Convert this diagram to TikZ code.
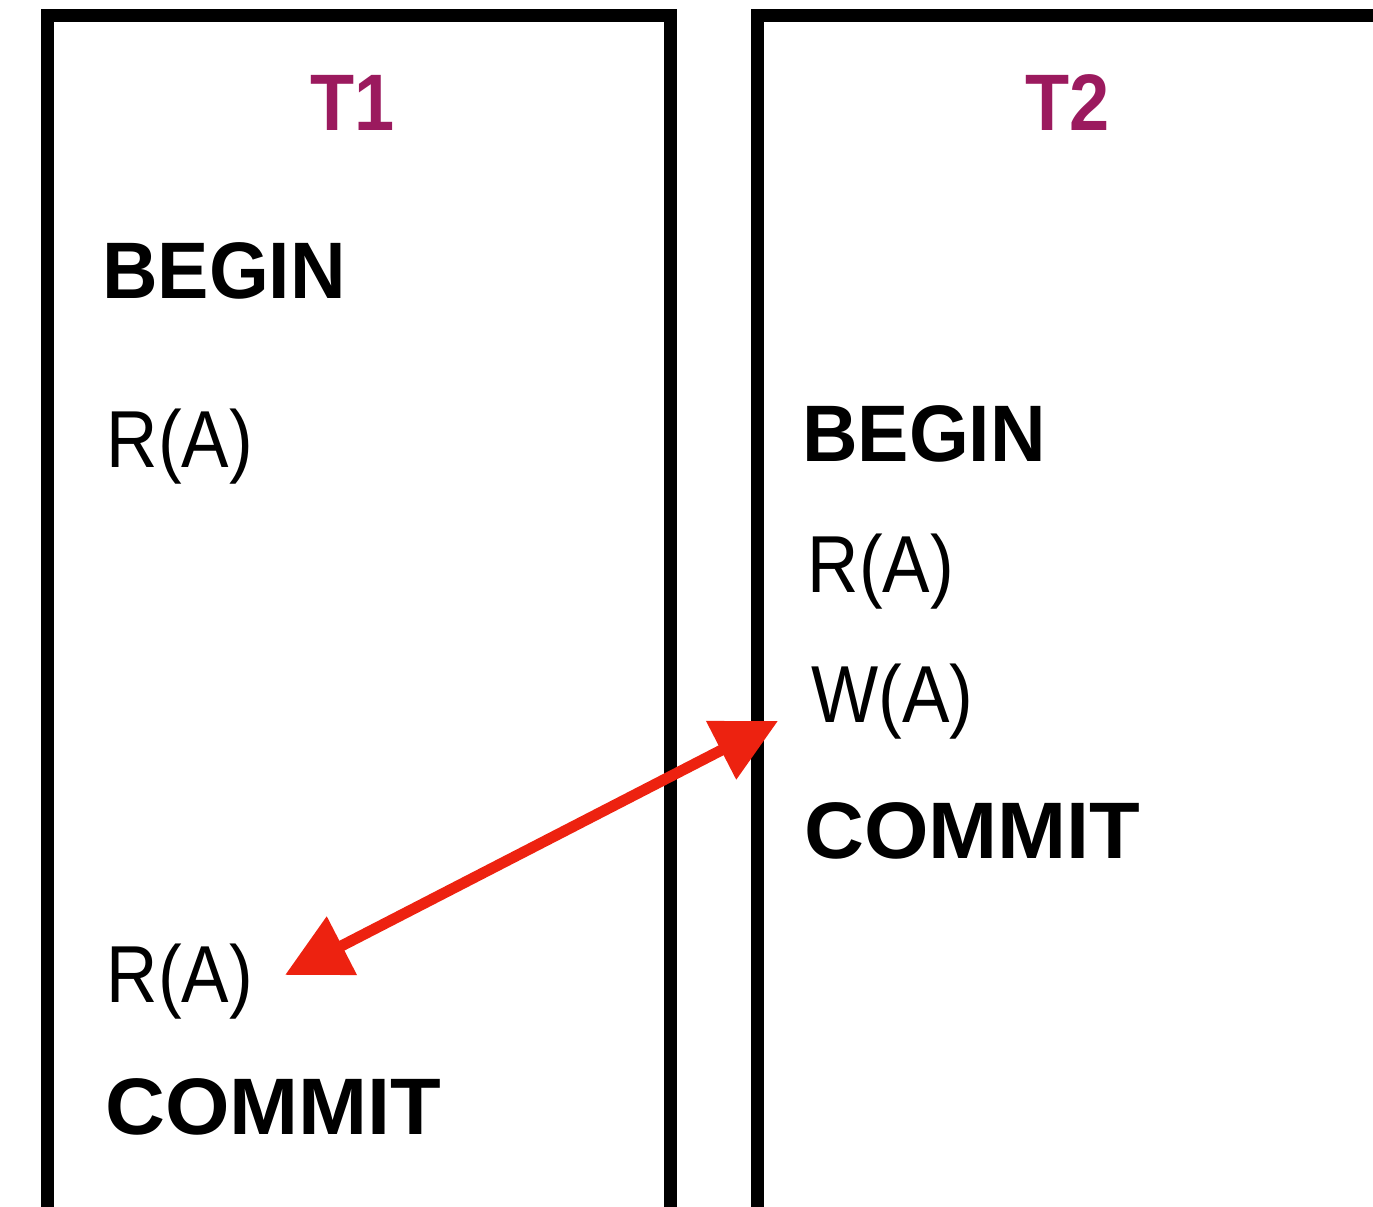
\documentclass[tikz,border=0pt]{standalone}
\usepackage{fontspec}
\setmainfont{Liberation Sans}
\newfontfamily\regfont[FakeStretch=0.88]{Liberation Sans}
\usetikzlibrary{arrows.meta}
\definecolor{tpurple}{RGB}{155,26,94}
\definecolor{arrred}{RGB}{237,34,16}
\tikzset{
  frame/.style={line width=0.13cm, line join=miter},
  title/.style={anchor=base, inner sep=0pt, text=tpurple, xscale=0.9, transform shape, font=\fontsize{22.8pt}{26pt}\selectfont\bfseries},
  kw/.style={anchor=base west, inner sep=0pt, font=\fontsize{22.8pt}{26pt}\selectfont\bfseries},
  kwbegin/.style={kw, xscale=0.96, transform shape},
  kwcommit/.style={kw, xscale=1.035, transform shape},
  op/.style={anchor=base west, inner sep=0pt, font=\fontsize{23pt}{26pt}\selectfont\regfont},
  conflict/.style={draw=arrred, line width=0.11cm, {Triangle[length=0.64cm,width=0.63cm]}-{Triangle[length=0.64cm,width=0.63cm]}}
}
\begin{document}
\begin{tikzpicture}
\useasboundingbox (0,0) rectangle (13.73,-12.07);
\clip (0,0) rectangle (13.73,-12.07);
% frames
\draw[frame] (0.47,-12.3) -- (0.47,-0.16) -- (6.70,-0.16) -- (6.70,-12.3);
\draw[frame] (7.57,-12.3) -- (7.57,-0.16) -- (14.2,-0.16);
% titles
\node[title] (t1) at (3.53,-1.31) {T1};
\node[title] (t2) at (10.68,-1.31) {T2};
% T1 operations
\node[kwbegin] (b1) at (1.015,-2.99) {BEGIN};
\node[op] (r1) at (1.06,-4.68) {R(A)};
\node[op] (r1b) at (1.06,-10.03) {R(A)};
\node[kwcommit] (c1) at (1.045,-11.35) {COMMIT};
% T2 operations
\node[kwbegin] (b2) at (8.015,-4.62) {BEGIN};
\node[op] (r2) at (8.07,-5.93) {R(A)};
\node[op] (w2) at (8.11,-7.23) {W(A)};
\node[kwcommit] (c2) at (8.035,-8.59) {COMMIT};
% conflict arrow
\coordinate (pa) at (2.85,-9.75);
\coordinate (pb) at (7.78,-7.21);
\draw[conflict] (pa) -- (pb);
\end{tikzpicture}
\end{document}
